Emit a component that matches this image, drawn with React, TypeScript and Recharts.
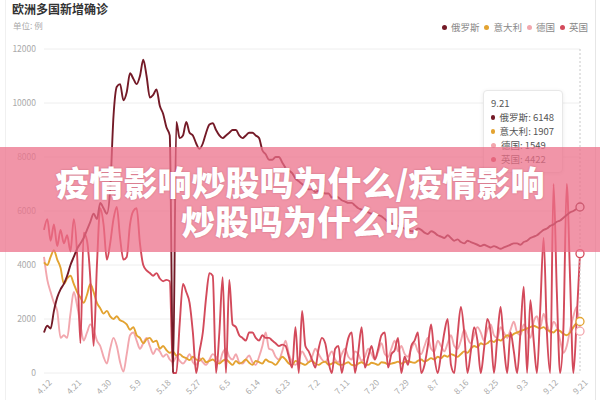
import React from "react"
import { LineChart, Line, XAxis, YAxis, CartesianGrid, Tooltip } from "recharts"

// month, first day, last day shown
const monthSpans = [
  [4, 12, 30],
  [5, 1, 31],
  [6, 1, 30],
  [7, 1, 31],
  [8, 1, 31],
  [9, 1, 21],
]

const russia = [
  1500, 1750, 1650, 2300, 2800, 3100, 3300, 3600, 4000, 4300,
  4600, 4800, 5000, 5300, 5600, 5900, 5700, 6300, 6100, 5900,
  6800, 9500, 10600, 10700, 10100, 10400, 11100, 10900, 10700, 11000,
  11600, 11000, 10200, 10300, 10500, 9900, 9600, 9100, 8800, 0,
  9300, 8700, 8800, 9300, 8900, 8800, 8500, 8300, 8500, 8900,
  9200, 9250, 9000, 8800, 8700, 8800, 8900, 9000, 9000, 8800,
  8700, 8800, 8900, 8900, 8800, 8700, 8250, 8100, 7900, 7900,
  8000, 8000, 7800, 7600, 7500, 7400, 7200, 7100, 7000, 6900,
  6800, 6800, 6700, 6750, 6700, 6650, 6650, 6500, 6550, 6500,
  6400, 6350, 6300, 6300, 6200, 6100, 6050, 6000, 5950, 5900,
  5900, 5850, 5800, 5700, 5600, 5550, 5500, 5450, 5400, 5350,
  5300, 5250, 5250, 5350, 5300, 5200, 5150, 5250, 5200, 5100,
  5050, 5000, 5100, 5000, 4900, 4950, 4850, 4800, 4900, 4850,
  4800, 4750, 4700, 4750, 4700, 4650, 4700, 4650, 4600, 4650,
  4700, 4750, 4800, 4800, 4750, 4850, 4900, 5000, 5050, 5100,
  5200, 5300, 5350, 5450, 5500, 5600, 5650, 5750, 5850, 5950,
  6000, 6080, 6148,
]

const italy = [
  4100, 4000, 4300, 4550, 4200, 3900, 3300, 3500, 3600, 3300,
  3000, 2800, 2600, 2900, 3300, 3000, 2600, 2400, 2200, 2300,
  2100, 2000, 2100, 1950, 1900, 1800, 1600, 1700, 1400, 1300,
  1100, 1250, 1300, 1150, 1200, 900, 1000, 850, 750, 800,
  650, 700, 600, 550, 480, 600, 500, 450, 550, 400,
  450, 500, 400, 350, 450, 500, 400, 300, 450, 350,
  400, 500, 380, 300, 450, 400, 350, 500, 420, 380,
  300, 450, 600, 500, 350, 300, 450, 400, 350, 300,
  400, 450, 350, 300, 380, 420, 300, 350, 400, 320,
  300, 350, 400, 300, 280, 350, 400, 320, 300, 380,
  350, 300, 400, 380, 320, 350, 380, 420, 350, 400,
  450, 400, 380, 450, 500, 420, 480, 550, 500, 600,
  550, 650, 600, 700, 650, 600, 700, 800, 750, 900,
  1000, 950, 1100, 1050, 1100, 1200, 1150, 1250, 1200, 1300,
  1400, 1350, 1450, 1500, 1550, 1600, 1650, 1700, 1750, 1700,
  1650, 1700, 1600, 1550, 1500, 1600, 1550, 1450, 1400, 1500,
  1700, 1850, 1907,
]

const germany = [
  4300, 3450, 3000, 2600, 2300, 1300, 1400, 1300, 2200, 3000,
  2500, 1800, 1200, 1500, 1800, 1600, 1200, 1000, 600, 350,
  900, 1300, 1000, 400, 50, 700, 1400, 1500, 1200, 900,
  1100, 1300, 1000, 700, 900, 800, 600, 700, 500, 400,
  600, 450, 350, 500, 700, 400, 300, 550, 400, 300,
  500, 700, 600, 400, 750, 900, 600, 500, 700, 400,
  350, 500, 650, 400, 300, 600, 1000, 1500, 900, 850,
  600, 500, 800, 1200, 700, 400, 300, 500, 800, 600,
  400, 600, 900, 700, 500, 400, 600, 800, 500, 400,
  700, 900, 600, 500, 800, 700, 450, 600, 900, 700,
  500, 800, 1100, 700, 600, 900, 1200, 800, 1000, 700,
  600, 900, 1100, 800, 700, 1000, 1300, 900, 800, 1200,
  1000, 800, 1100, 1400, 1000, 900, 1200, 1600, 1300, 1100,
  1400, 1700, 1500, 1200, 1600, 1800, 1400, 1300, 1700, 1500,
  1300, 1600, 1900, 1500, 1400, 1800, 1600, 1300, 1900, 2100,
  1700, 2200, 1800, 1500, 1900, 1700, 1200, 750, 1000, 1600,
  2100, 2450, 1549,
]

const uk = [
  5300, 5700, 4900, 5500, 4700, 5300, 4800, 5100, 4500, 5700,
  4400, 1100, 5200, 4900, 3500, 1000, 4000, 6100, 5500, 4200,
  4800, 5700, 6150, 5000, 4200, 4300, 5500, 6000, 6100, 4800,
  4000, 3800, 3700, 3600, 3700, 3500, 3400, 3450, 3400, 0,
  0, 1800, 3300, 3000, 2600, 1500, 0, 800, 1500, 2800,
  3700, 3600, 0, 1500, 3550, 0, 3450, 1800, 1700, 1400,
  1300, 1200, 1500, 1500, 1300, 1200, 1400, 1300, 1300, 1200,
  1100, 1000, 1050, 1000, 600, 200, 1700, 0, 2300, 1000,
  800, 500, 200, 900, 1300, 1100, 400, 0, 900, 1000,
  0, 700, 1300, 1500, 0, 800, 1700, 200, 600, 1000,
  500, 900, 1400, 1500, 200, 700, 850, 1300, 0, 600,
  300, 1000, 1200, 1500, 0, 300, 1000, 1800, 600, 0,
  700, 1500, 2000, 300, 0, 1400, 2450, 1500, 0, 800,
  1700, 1200, 0, 900, 2000, 1500, 0, 1300, 2450, 1000,
  0, 1500, 800, 0, 1500, 3200, 0, 2700, 1200, 0,
  2400, 5000, 1500, 0, 7000, 3000, 0, 1700, 7000, 3500,
  0, 2000, 4422,
]

const yTicks = [0, 2000, 4000, 6000, 8000, 10000, 12000]

const series = [
  { key: "russia", name: "俄罗斯", color: "#741a27" },
  { key: "italy", name: "意大利", color: "#e3a331" },
  { key: "germany", name: "德国", color: "#f2a7ae" },
  { key: "uk", name: "英国", color: "#d34a5b" },
]

const dates: string[] = []
monthSpans.forEach(([m, a, b]) => {
  for (let d = a; d <= b; d++) dates.push(`${m}.${d}`)
})

const data = dates.map((date, i) => ({
  date,
  russia: russia[i],
  italy: italy[i],
  germany: germany[i],
  uk: uk[i],
}))

const FONT = '"Noto Sans CJK SC", "Noto Sans", sans-serif'

function TipBox({ label, payload }: any) {
  if (!payload || !payload.length) return null
  return (
    <div
      style={{
        background: "#fff",
        border: "1px solid #e8e8e8",
        borderRadius: 4,
        boxShadow: "0 1px 4px rgba(0,0,0,0.08)",
        padding: "5px 8px 6px 7px",
        width: 63,
        fontSize: 9.5,
        lineHeight: "14px",
        color: "#555",
        fontFamily: FONT,
      }}
    >
      <div>{label}</div>
      {series.map((s) => {
        const p = payload.find((x: any) => x.dataKey === s.key)
        return (
          <div key={s.key} style={{ display: "flex", alignItems: "center", whiteSpace: "nowrap" }}>
            <span style={{ width: 5, height: 5, borderRadius: 3, background: s.color, marginRight: 5 }} />
            {s.name}: {p ? p.value : ""}
          </div>
        )
      })}
    </div>
  )
}

export default function App() {
  return (
    <div style={{ position: "absolute", left: 0, top: 0, width: 600, height: 400, background: "#fff", fontFamily: FONT, overflow: "hidden" }}>
      <div style={{ position: "absolute", left: 5, top: 0, width: 589, height: 400, borderLeft: "1px solid #f0f0f0", borderRight: "1px solid #e6e6e6" }} />
      <div style={{ position: "absolute", left: 12, top: 0, fontSize: 12, fontWeight: 700, color: "#333" }}>欧洲多国新增确诊</div>
      <div style={{ position: "absolute", left: 13, top: 19, fontSize: 8.5, color: "#aaa" }}>单位: 例</div>
      <div style={{ position: "absolute", right: 12, top: 20, display: "flex", alignItems: "center", fontSize: 9.5, color: "#888" }}>
        {series.map((s) => (
          <div key={s.key} style={{ display: "flex", alignItems: "center", marginLeft: 5 }}>
            <span style={{ width: 5, height: 5, borderRadius: 3, background: s.color, marginRight: 4 }} />
            {s.name}
          </div>
        ))}
      </div>

      <LineChart width={600} height={400} data={data} margin={{ top: 49, right: 20, bottom: 0, left: 0 }}>
        <CartesianGrid vertical={false} stroke="#eeeeee" />
        <XAxis
          dataKey="date"
          interval={8}
          axisLine={false}
          tickLine={false}
          height={27}
          angle={-45}
          textAnchor="end"
          dx={4}
          dy={-2}
          tick={{ fontSize: 8.5, fill: "#aaa" }}
        />
        <YAxis
          width={44}
          domain={[0, 12000]}
          ticks={yTicks}
          axisLine={false}
          tickLine={false}
          tick={{ fontSize: 8.5, fill: "#aaa" }}
        />
        <Tooltip
          defaultIndex={162}
          active
          content={<TipBox />}
          position={{ x: 483, y: 90 }}
          cursor={{ stroke: "#c8c8c8", strokeDasharray: "2 2" }}
          isAnimationActive={false}
        />
        {[series[2], series[1], series[3], series[0]].map((s) => (
          <Line
            key={s.key}
            dataKey={s.key}
            name={s.name}
            type="monotone"
            stroke={s.color}
            strokeWidth={1.9}
            dot={false}
            activeDot={{ r: 4, fill: "#fff", stroke: s.color, strokeWidth: 1.3 }}
            isAnimationActive={false}
          />
        ))}
      </LineChart>

      <div
        style={{
          position: "absolute",
          left: 0,
          top: 147,
          width: 600,
          height: 105,
          background: "rgba(236,112,138,0.74)",
          zIndex: 3000,
          color: "#fff",
          fontSize: 34,
          fontWeight: 900,
          lineHeight: "39px",
          textAlign: "center",
          paddingTop: 15,
          boxSizing: "border-box",
          textShadow: "0 0 2px rgba(120,30,50,0.35)",
        }}
      >
        <div>疫情影响炒股吗为什么/疫情影响</div>
        <div>炒股吗为什么呢</div>
      </div>
    </div>
  )
}
